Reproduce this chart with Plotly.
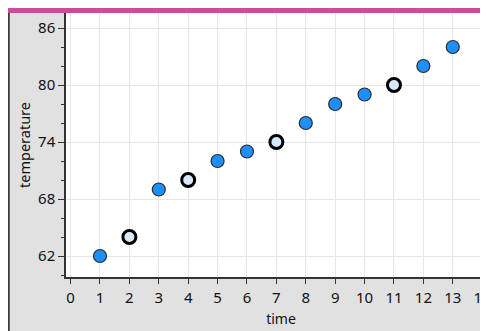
import plotly.graph_objects as go

time = [1, 2, 3, 4, 5, 6, 7, 8, 9, 10, 11, 12, 13]
temperature = [62, 64, 69, 70, 72, 73, 74, 76, 78, 79, 80, 82, 84]
selected = [2, 4, 7, 11]

# the page body adds an 8px offset, so the figure starts at (8, 8)
W, H = 488, 331
L, R, T, B = 58, 0, 5, 62
pw, ph = W - L - R, H - T - B


def px(x):
    return (x - L) / pw


def py(y):
    return 1 - (y - T) / ph


normal = [(t, v) for t, v in zip(time, temperature) if t not in selected]
picked = [(t, v) for t, v in zip(time, temperature) if t in selected]

fig = go.Figure()

fig.add_trace(go.Scatter(
    x=[p[0] for p in normal], y=[p[1] for p in normal],
    mode="markers",
    marker=dict(size=13, color="#1e8fff", line=dict(width=1.2, color="#2b2b2b")),
    showlegend=False,
))
fig.add_trace(go.Scatter(
    x=[p[0] for p in picked], y=[p[1] for p in picked],
    mode="markers",
    marker=dict(size=13, color="#d6e9fa", line=dict(width=3, color="#000000")),
    showlegend=False,
))

shapes = [
    # magenta bar
    dict(type="rect", xref="paper", yref="paper", x0=px(0), x1=px(W), y0=py(5), y1=py(0),
         fillcolor="#c2509b", line=dict(width=0)),
    # dark left edge
    dict(type="line", xref="paper", yref="paper", x0=px(0.5), x1=px(0.5), y0=py(H), y1=py(5),
         line=dict(width=2.5, color="#3a3a3a")),
]

fig.update_layout(
    width=W, height=H,
    margin=dict(l=L, r=R, t=T, b=B, pad=0, autoexpand=False),
    paper_bgcolor="#e1e1e1",
    plot_bgcolor="white",
    font=dict(family="Noto Sans", size=15, color="#111111"),
    shapes=shapes,
    xaxis=dict(
        range=[-0.156, 14.47], dtick=1, tick0=0, automargin=False,
        showgrid=True, gridcolor="#e6e6e6", gridwidth=1, zeroline=False,
        showline=True, linecolor="#333333", linewidth=1.5,
        ticks="outside", ticklen=5, tickcolor="#333333",
        ticklabelstandoff=1,
        title=dict(text="time", font=dict(size=14), standoff=8),
    ),
    yaxis=dict(
        range=[59.79, 87.58], dtick=6, tick0=62, automargin=False,
        showgrid=True, gridcolor="#e6e6e6", gridwidth=1, zeroline=False,
        showline=True, linecolor="#333333", linewidth=1.5,
        ticks="outside", ticklen=6, tickcolor="#333333",
        minor=dict(dtick=2, tick0=62, ticks="outside", ticklen=3, tickcolor="#333333", showgrid=False),
        title=dict(text="temperature", font=dict(size=14.5), standoff=4),
    ),
)

fig.write_html("out.html")
